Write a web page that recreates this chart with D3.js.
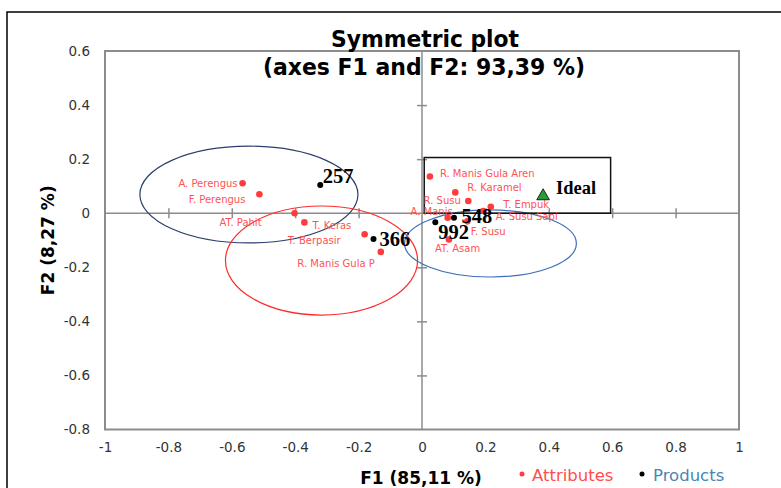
<!DOCTYPE html>
<html>
<head>
<meta charset="utf-8">
<script src="https://cdn.jsdelivr.net/npm/d3@7"></script>
<style>
  body { margin: 0; background: #fff; }
  svg { display: block; }
</style>
</head>
<body>
<svg id="chart"></svg>
<script>
// attributes (red points)
const attrNames = ["A. Perengus", "F. Perengus", "AT. Pahit", "T. Keras", "T. Berpasir", "R. Manis Gula P",
  "R. Manis Gula Aren", "R. Karamel", "R. Susu", "T. Empuk", "A. Susu Sapi", "A. Manis", "F. Susu", "AT. Asam"];
const attrF1 = [-0.566, -0.513, -0.402, -0.371, -0.181, -0.130, 0.025, 0.105, 0.146, 0.217, 0.193, 0.081, 0.143, 0.085];
const attrF2 = [0.111, 0.070, 0.000, -0.034, -0.078, -0.143, 0.136, 0.077, 0.045, 0.024, 0.008, -0.017, -0.030, -0.097];

// products (black points)
const prodNames = ["257", "366", "548", "992"];
const prodF1 = [-0.321, -0.153, 0.101, 0.042];
const prodF2 = [0.104, -0.095, -0.017, -0.033];

// ideal product
const idealName = "Ideal";
const idealF1 = 0.382;
const idealF2 = 0.067;

// confidence ellipses around the products: centre and radii in axis units
const ellCx = [-0.546, -0.317, 0.216];
const ellCy = [0.069, -0.175, -0.112];
const ellRx = [0.344, 0.303, 0.271];
const ellRy = [0.179, 0.2016, 0.124];

const xTicks = [-1, -0.8, -0.6, -0.4, -0.2, 0, 0.2, 0.4, 0.6, 0.8, 1];
const yTicks = [0.6, 0.4, 0.2, 0, -0.2, -0.4, -0.6, -0.8];

// layout only (not data): label offsets in px, and the ellipse colours
const attrLabelPos = [
  [-5, 3.5, "end"], [-14, 9, "end"], [-33, 13, "end"], [8, 7, "start"], [-24, 10, "end"], [-6, 15, "end"],
  [10, 0.5, "start"], [12, -1, "start"], [-7.5, 3, "end"], [12.5, 1, "start"], [12.5, 8.5, "start"],
  [5, -3, "end"], [3.5, 14, "start"], [-14, 13, "start"]
];
const prodLabelPos = [[2.5, -2], [6, 7], [7.5, 5.5], [3, 17]];
const ellColors = ["#2b3f6c", "#ff2b2b", "#3d6fb8"];

const W = 781, H = 488;
const svg = d3.select("#chart").attr("width", W).attr("height", H);

const x = d3.scaleLinear().domain([-1, 1]).range([105, 739]);
const y = d3.scaleLinear().domain([-0.8, 0.6]).range([429.5, 51]);
const fmt = d => String(+d.toFixed(1));

// outer chart border (runs off the right and bottom edges)
svg.append("rect")
  .attr("x", 7).attr("y", 12).attr("width", 820).attr("height", 520)
  .attr("fill", "none").attr("stroke", "#000").attr("stroke-width", 1.5);

// plot frame
svg.append("rect")
  .attr("x", x(-1)).attr("y", y(0.6))
  .attr("width", x(1) - x(-1)).attr("height", y(-0.8) - y(0.6))
  .attr("fill", "none").attr("stroke", "#8c8c8c").attr("stroke-width", 2);

// zero lines with crossing ticks
svg.append("line")
  .attr("x1", x(-1)).attr("x2", x(1)).attr("y1", y(0)).attr("y2", y(0))
  .attr("stroke", "#8c8c8c").attr("stroke-width", 1.5);
svg.append("line")
  .attr("x1", x(0)).attr("x2", x(0)).attr("y1", y(0.6)).attr("y2", y(-0.8))
  .attr("stroke", "#8c8c8c").attr("stroke-width", 1.5);

const xZero = svg.append("g")
  .attr("transform", `translate(0,${y(0) - 5})`)
  .call(d3.axisBottom(x).tickValues(xTicks.filter(d => d > -1 && d < 1 && d !== 0)).tickSize(10).tickFormat(""));
const yZero = svg.append("g")
  .attr("transform", `translate(${x(0) + 5},0)`)
  .call(d3.axisLeft(y).tickValues(yTicks.filter(d => d < 0.6 && d > -0.8 && d !== 0)).tickSize(10).tickFormat(""));
[xZero, yZero].forEach(g => {
  g.select(".domain").remove();
  g.selectAll(".tick line").attr("stroke", "#8c8c8c").attr("stroke-width", 1.5);
});

// tick labels
const xAxis = svg.append("g")
  .attr("transform", `translate(0,${y(-0.8)})`)
  .call(d3.axisBottom(x).tickValues(xTicks).tickSize(0).tickPadding(13).tickFormat(fmt));
const yAxis = svg.append("g")
  .attr("transform", `translate(${x(-1)},0)`)
  .call(d3.axisLeft(y).tickValues(yTicks).tickSize(0).tickPadding(15).tickFormat(fmt));
[xAxis, yAxis].forEach(g => {
  g.select(".domain").remove();
  g.selectAll("text")
    .attr("font-family", "DejaVu Sans, sans-serif")
    .attr("font-size", 13.5)
    .attr("fill", "#333");
});

// ellipses
svg.selectAll(".ell")
  .data(ellCx.map((d, i) => ({cx: d, cy: ellCy[i], rx: ellRx[i], ry: ellRy[i], c: ellColors[i]})))
  .join("ellipse")
  .attr("class", "ell")
  .attr("cx", d => x(d.cx))
  .attr("cy", d => y(d.cy))
  .attr("rx", d => x(d.rx) - x(0))
  .attr("ry", d => y(0) - y(d.ry))
  .attr("fill", "none")
  .attr("stroke", d => d.c)
  .attr("stroke-width", 1.2);

// box round the ideal
const idealBoxF1 = [0.007, 0.595];
const idealBoxF2 = [0.206, 0.0];
svg.append("rect")
  .attr("x", x(idealBoxF1[0])).attr("y", y(idealBoxF2[0]))
  .attr("width", x(idealBoxF1[1]) - x(idealBoxF1[0]))
  .attr("height", y(idealBoxF2[1]) - y(idealBoxF2[0]))
  .attr("fill", "none").attr("stroke", "#111").attr("stroke-width", 1.5);

// attributes
const attrs = attrNames.map((n, i) => ({name: n, f1: attrF1[i], f2: attrF2[i], pos: attrLabelPos[i]}));
svg.selectAll(".attrDot")
  .data(attrs)
  .join("circle")
  .attr("class", "attrDot")
  .attr("cx", d => x(d.f1)).attr("cy", d => y(d.f2))
  .attr("r", 3.3)
  .attr("fill", "#ff3c3c");
svg.selectAll(".attrLabel")
  .data(attrs)
  .join("text")
  .attr("class", "attrLabel")
  .attr("x", d => x(d.f1) + d.pos[0])
  .attr("y", d => y(d.f2) + d.pos[1])
  .attr("text-anchor", d => d.pos[2])
  .attr("font-family", "DejaVu Sans, sans-serif")
  .attr("font-size", 10)
  .attr("fill", "#ff5252")
  .text(d => d.name);

// products
const prods = prodNames.map((n, i) => ({name: n, f1: prodF1[i], f2: prodF2[i], pos: prodLabelPos[i]}));
svg.selectAll(".prodDot")
  .data(prods)
  .join("circle")
  .attr("class", "prodDot")
  .attr("cx", d => x(d.f1)).attr("cy", d => y(d.f2))
  .attr("r", 3)
  .attr("fill", "#000");
svg.selectAll(".prodLabel")
  .data(prods)
  .join("text")
  .attr("class", "prodLabel")
  .attr("x", d => x(d.f1) + d.pos[0])
  .attr("y", d => y(d.f2) + d.pos[1])
  .attr("font-family", "Liberation Serif, serif")
  .attr("font-weight", "bold")
  .attr("font-size", 20.5)
  .attr("fill", "#000")
  .text(d => d.name);

// ideal
svg.append("path")
  .attr("d", d3.symbol(d3.symbolTriangle, 70)())
  .attr("transform", `translate(${x(idealF1)},${y(idealF2) + 1})`)
  .attr("fill", "#2a9a3c")
  .attr("stroke", "#000")
  .attr("stroke-width", 0.8);
svg.append("text")
  .attr("x", x(idealF1) + 13).attr("y", y(idealF2) - 1.5)
  .attr("font-family", "Liberation Serif, serif")
  .attr("font-weight", "bold")
  .attr("font-size", 18.5)
  .text(idealName);

// title
const title = svg.append("g")
  .attr("font-family", "DejaVu Sans Condensed, DejaVu Sans, sans-serif")
  .attr("font-weight", "bold")
  .attr("font-size", 23)
  .attr("text-anchor", "middle")
  .attr("fill", "#000");
title.append("text").attr("x", 425).attr("y", 47)
  .attr("textLength", 188).attr("lengthAdjust", "spacingAndGlyphs")
  .text("Symmetric plot");
title.append("text").attr("x", 424).attr("y", 75)
  .attr("textLength", 322).attr("lengthAdjust", "spacingAndGlyphs")
  .text("(axes F1 and F2: 93,39 %)");

// axis titles
svg.append("text")
  .attr("x", 421).attr("y", 484)
  .attr("text-anchor", "middle")
  .attr("font-family", "DejaVu Sans, sans-serif")
  .attr("font-weight", "bold")
  .attr("font-size", 17)
  .text("F1 (85,11 %)");
svg.append("text")
  .attr("transform", `translate(54,${(y(0.6) + y(-0.8)) / 2}) rotate(-90)`)
  .attr("text-anchor", "middle")
  .attr("font-family", "DejaVu Sans, sans-serif")
  .attr("font-weight", "bold")
  .attr("font-size", 17)
  .text("F2 (8,27 %)");

// legend
const legend = svg.append("g")
  .attr("font-family", "DejaVu Sans, sans-serif")
  .attr("font-size", 16.5);
legend.append("circle").attr("cx", 522).attr("cy", 474).attr("r", 2.5).attr("fill", "#ff3c3c");
legend.append("text").attr("x", 532).attr("y", 481).attr("fill", "#ff4d4d").text("Attributes");
legend.append("circle").attr("cx", 642).attr("cy", 474).attr("r", 2.5).attr("fill", "#000");
legend.append("text").attr("x", 653).attr("y", 481).attr("fill", "#4a86b2").text("Products");
</script>
</body>
</html>
